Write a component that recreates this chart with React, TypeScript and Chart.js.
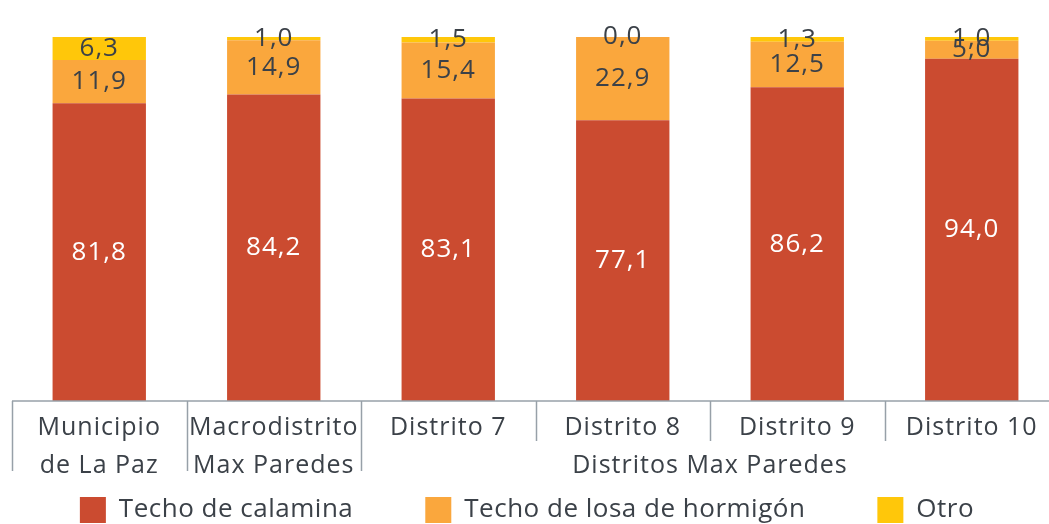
import { useEffect, useRef } from "react";
import { Chart, registerables } from "chart.js";

Chart.register(...registerables);

const categories: string[][] = [
  ["Municipio", "de La Paz"],
  ["Macrodistrito", "Max Paredes"],
  ["Distrito 7"],
  ["Distrito 8"],
  ["Distrito 9"],
  ["Distrito 10"],
];
const groupLabel = "Distritos Max Paredes";
const groupStart = 2;
const groupEnd = 6;

const seriesNames = ["Techo de calamina", "Techo de losa de hormigón", "Otro"];
const calamina = [81.8, 84.2, 83.1, 77.1, 86.2, 94.0];
const losa = [11.9, 14.9, 15.4, 22.9, 12.5, 5.0];
const otro = [6.3, 1.0, 1.5, 0.0, 1.3, 1.0];

const colors = ["#CB4B30", "#FAA73D", "#FFC70A"];
const FONT = "'Open Sans', 'Noto Sans', sans-serif";
const TEXT = "#3b4148";
const AXIS = "#97a0a8";

const fmt = (v: number) => v.toFixed(1).replace(".", ",");

const customPlugin = {
  id: "custom",
  afterDatasetsDraw(chart: any) {
    const ctx = chart.ctx;
    ctx.save();
    ctx.textAlign = "center";
    ctx.textBaseline = "middle";
    ctx.font = `26px ${FONT}`;
    ctx.letterSpacing = "1px";
    chart.data.datasets.forEach((ds: any, di: number) => {
      const meta = chart.getDatasetMeta(di);
      meta.data.forEach((bar: any, i: number) => {
        const cy = (bar.y + bar.base) / 2;
        ctx.fillStyle = di === 0 ? "#ffffff" : TEXT;
        ctx.fillText(fmt(ds.data[i]), bar.x, cy);
      });
    });
    ctx.restore();
  },
  afterDraw(chart: any) {
    const ctx = chart.ctx;
    const area = chart.chartArea;
    const xs = chart.scales.x;
    const catW = xs.getPixelForValue(1) - xs.getPixelForValue(0);
    const bottom = area.bottom;
    ctx.save();
    // axis line
    ctx.strokeStyle = AXIS;
    ctx.lineWidth = 1.5;
    ctx.beginPath();
    ctx.moveTo(area.left, bottom);
    ctx.lineTo(area.right, bottom);
    ctx.stroke();
    // separators
    for (let k = 0; k <= categories.length; k++) {
      const x = Math.round(xs.getPixelForValue(k) - catW / 2) + 0.5;
      const len = k <= groupStart ? 70 : 40;
      ctx.beginPath();
      ctx.moveTo(x, bottom);
      ctx.lineTo(x, bottom + len);
      ctx.stroke();
    }
    // tick labels
    ctx.fillStyle = TEXT;
    ctx.font = `25px ${FONT}`;
    ctx.letterSpacing = "1px";
    ctx.textAlign = "center";
    ctx.textBaseline = "middle";
    categories.forEach((lines, i) => {
      const x = xs.getPixelForValue(i);
      lines.forEach((ln, j) => {
        ctx.fillText(ln, x, bottom + 27 + j * 38);
      });
    });
    const gx =
      (xs.getPixelForValue(groupStart) + xs.getPixelForValue(groupEnd - 1)) / 2;
    ctx.fillText(groupLabel, gx, bottom + 65);
    // legend
    ctx.font = `26px ${FONT}`;
    ctx.letterSpacing = "0.5px";
    ctx.textAlign = "left";
    const box = 26;
    const gapText = 13;
    const gapItem = 72;
    const widths = seriesNames.map((n) => ctx.measureText(n).width);
    const total =
      widths.reduce((a, w) => a + box + gapText + w, 0) +
      gapItem * (seriesNames.length - 1);
    let x = 527 - total / 2;
    const ly = 510;
    seriesNames.forEach((n, i) => {
      ctx.fillStyle = colors[i];
      ctx.fillRect(x, ly - box / 2, box, box);
      ctx.fillStyle = TEXT;
      ctx.fillText(n, x + box + gapText, ly);
      x += box + gapText + widths[i] + gapItem;
    });
    ctx.restore();
  },
};

export default function App() {
  const ref = useRef<HTMLCanvasElement>(null);
  useEffect(() => {
    if (!ref.current) return;
    const chart = new Chart(ref.current, {
      type: "bar",
      data: {
        labels: categories.map((c) => c.join(" ")),
        datasets: [calamina, losa, otro].map((d, i) => ({
          label: seriesNames[i],
          data: d,
          backgroundColor: colors[i],
          borderWidth: 0,
          barPercentage: 0.535,
          categoryPercentage: 1,
        })),
      },
      options: {
        responsive: false,
        animation: false,
        layout: { padding: { left: 12, right: 1, top: 37, bottom: 123 } },
        plugins: { legend: { display: false }, tooltip: { enabled: false } },
        scales: {
          x: { stacked: true, display: false },
          y: { stacked: true, display: false, min: 0, max: 100 },
        },
      },
      plugins: [customPlugin],
    });
    return () => chart.destroy();
  }, []);
  return (
    <div
      style={{
        position: "absolute",
        left: 0,
        top: 0,
        width: 1049,
        height: 524,
        overflow: "hidden",
        background: "#fff",
      }}
    >
      <canvas ref={ref} width={1060} height={524} style={{ width: 1060, height: 524 }} />
    </div>
  );
}
